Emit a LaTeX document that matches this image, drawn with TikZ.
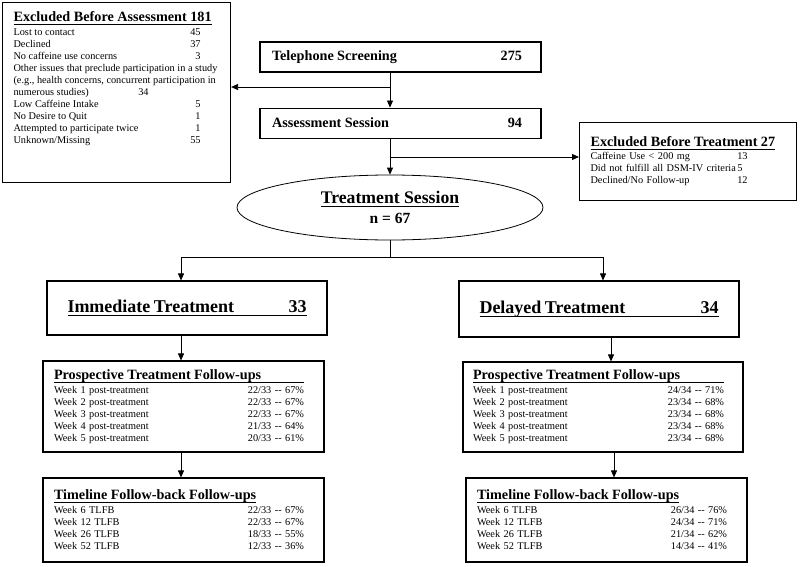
\documentclass[tikz,border=0pt]{standalone}
\usepackage{fontspec}
\setmainfont{Liberation Serif}
\usepackage{tikz}
\usetikzlibrary{arrows.meta,positioning,shapes.geometric}
\tikzset{>={Triangle[length=7pt,width=6pt]}}
\tikzset{box/.style={draw,line width=1.1pt,rectangle,inner sep=0pt,align=left,font=\smfont}}
\tikzset{link/.style={line width=0.8pt}}
\newcommand\hdfont{\fontsize{14.2}{16.5}\selectfont\bfseries}
\newcommand\smfont{\fontsize{10.3}{12}\selectfont}
\newcommand\hdul[1]{\leavevmode\begingroup\setbox0\hbox{#1}\dp0=0pt\vtop{\box0\kern2.2pt\hrule height 1pt}\endgroup}
\newcommand\statrow[3]{\makebox[#1][l]{#2\hfill#3}}
\newcommand\dd{\mbox{-}\mbox{-}}

\begin{document}
\begin{tikzpicture}[x=1pt,y=-1pt]
        \useasboundingbox (0,0) rectangle (800,567);
        \node(tel)[box,minimum height=30pt,text width=257pt,inner xsep=12pt] at (400.5,57)
          {\hdfont\statrow{250pt}{Telephone Screening}{275}};
        \node(assess)[box,minimum height=30pt,text width=257pt,inner xsep=12pt,below=35pt of tel]
          {\hdfont\statrow{250pt}{Assessment Session}{94}};
        \node(exA)[box,minimum width=228pt,minimum height=180pt,anchor=north west] at (2,2)
          {\parbox[c][162pt][t]{206pt}{%
            {\hdfont\hdul{Excluded Before Assessment 181}}\\[2pt]
            \statrow{187pt}{Lost to contact}{45}\\
            \statrow{187pt}{Declined}{37}\\
            \statrow{187pt}{No caffeine use concerns}{3}\\
            \mbox{Other issues that preclude participation in a study}\\
            \mbox{(e.g., health concerns, concurrent participation in}\\
            \statrow{135pt}{numerous studies)}{34}\\
            \statrow{187pt}{Low Caffeine Intake}{5}\\
            \statrow{187pt}{No Desire to Quit}{1}\\
            \statrow{187pt}{Attempted to participate twice}{1}\\
            \statrow{187pt}{Unknown/Missing}{55}}};
        \node(exT)[box,minimum height=78pt,text width=195pt,inner xsep=11pt,anchor=north west] at (579,122)
          {{\hdfont\hdul{Excluded Before Treatment 27}}\\[1pt]
            \statrow{157pt}{Caffeine Use < 200 mg}{13}\\
            \statrow{152pt}{Did not fulfill all DSM-IV criteria}{5}\\
            \statrow{157pt}{Declined/No Follow-up}{12}};
        \node(sess)[ellipse,draw,line width=0.8pt,minimum width=306pt,minimum height=65pt,inner sep=0pt,align=center] at (390,207.5)
          {\fontsize{17.7}{20}\selectfont\bfseries\hdul{Treatment Session}\\[5pt]
           \fontsize{15.5}{17}\selectfont\bfseries n = 67};
        \node(imm)[box,minimum height=54pt,text width=239pt,inner xsep=20.5pt] at (187,308)
          {\fontsize{18}{21}\selectfont\bfseries\hdul{\statrow{239pt}{Immediate Treatment}{33}}};
        \node(dly)[box,minimum height=56pt,text width=239pt,inner xsep=20.5pt] at (599,309)
          {\fontsize{18}{21}\selectfont\bfseries\hdul{\statrow{239pt}{Delayed Treatment}{34}}};
        \node(pImm)[box,minimum height=91pt,text width=259pt,inner xsep=11pt] at (183.5,406.5)
          {{\hdfont\hdul{\makebox[250pt][l]{Prospective Treatment Follow-ups}}}\\[2pt]
            \statrow{250pt}{Week 1 post-treatment}{22/33 \dd{} 67\%}\\
            \statrow{250pt}{Week 2 post-treatment}{22/33 \dd{} 67\%}\\
            \statrow{250pt}{Week 3 post-treatment}{22/33 \dd{} 67\%}\\
            \statrow{250pt}{Week 4 post-treatment}{21/33 \dd{} 64\%}\\
            \statrow{250pt}{Week 5 post-treatment}{20/33 \dd{} 61\%}};
        \node(pDly)[box,minimum height=90pt,text width=260pt,inner xsep=10pt] at (603,407)
          {{\hdfont\hdul{\makebox[251pt][l]{Prospective Treatment Follow-ups}}}\\[2pt]
            \statrow{251pt}{Week 1 post-treatment}{24/34 \dd{} 71\%}\\
            \statrow{251pt}{Week 2 post-treatment}{23/34 \dd{} 68\%}\\
            \statrow{251pt}{Week 3 post-treatment}{23/34 \dd{} 68\%}\\
            \statrow{251pt}{Week 4 post-treatment}{23/34 \dd{} 68\%}\\
            \statrow{251pt}{Week 5 post-treatment}{23/34 \dd{} 68\%}};
        \node(tImm)[box,minimum height=84pt,text width=259pt,inner xsep=11pt] at (183.5,520)
          {{\hdfont\hdul{Timeline Follow-back Follow-ups}}\\[2pt]
            \statrow{250pt}{Week 6 TLFB}{22/33 \dd{} 67\%}\\
            \statrow{250pt}{Week 12 TLFB}{22/33 \dd{} 67\%}\\
            \statrow{250pt}{Week 26 TLFB}{18/33 \dd{} 55\%}\\
            \statrow{250pt}{Week 52 TLFB}{12/33 \dd{} 36\%}};
        \node(tDly)[box,minimum height=84pt,text width=259pt,inner xsep=11pt] at (606.5,520)
          {{\hdfont\hdul{Timeline Follow-back Follow-ups}}\\[2pt]
            \statrow{250pt}{Week 6 TLFB}{26/34 \dd{} 76\%}\\
            \statrow{250pt}{Week 12 TLFB}{24/34 \dd{} 71\%}\\
            \statrow{250pt}{Week 26 TLFB}{21/34 \dd{} 62\%}\\
            \statrow{250pt}{Week 52 TLFB}{14/34 \dd{} 41\%}};
        \coordinate(jA) at (390,87);
        \coordinate(jT) at (390,157);
        \coordinate(sA) at (181,257);
        \coordinate(sD) at (603,257);
        \draw[link,->] (tel.south -| sess.center) -- (assess.north -| sess.center);
        \draw[link,->] (jA) -- (jA -| exA.east);
        \draw[link,->] (assess.south -| sess.center) -- (sess.north);
        \draw[link,->] (jT) -- (jT -| exT.west);
        \draw[link,->] (sess.south) |- (sA) -- (sA |- imm.north);
        \draw[link,->] (sess.south) |- (sD) -- (sD |- dly.north);
        \draw[link,->] (imm.south -| sA) -- (pImm.north -| sA);
        \draw[link,->] (pImm.south -| sA) -- (tImm.north -| sA);
        \draw[link,->] ([xshift=12pt]dly.south) -- ([xshift=12pt]dly.south |- pDly.north);
        \draw[link,->] ([xshift=11pt]pDly.south) -- ([xshift=11pt]pDly.south |- tDly.north);
      \end{tikzpicture}
\end{document}
